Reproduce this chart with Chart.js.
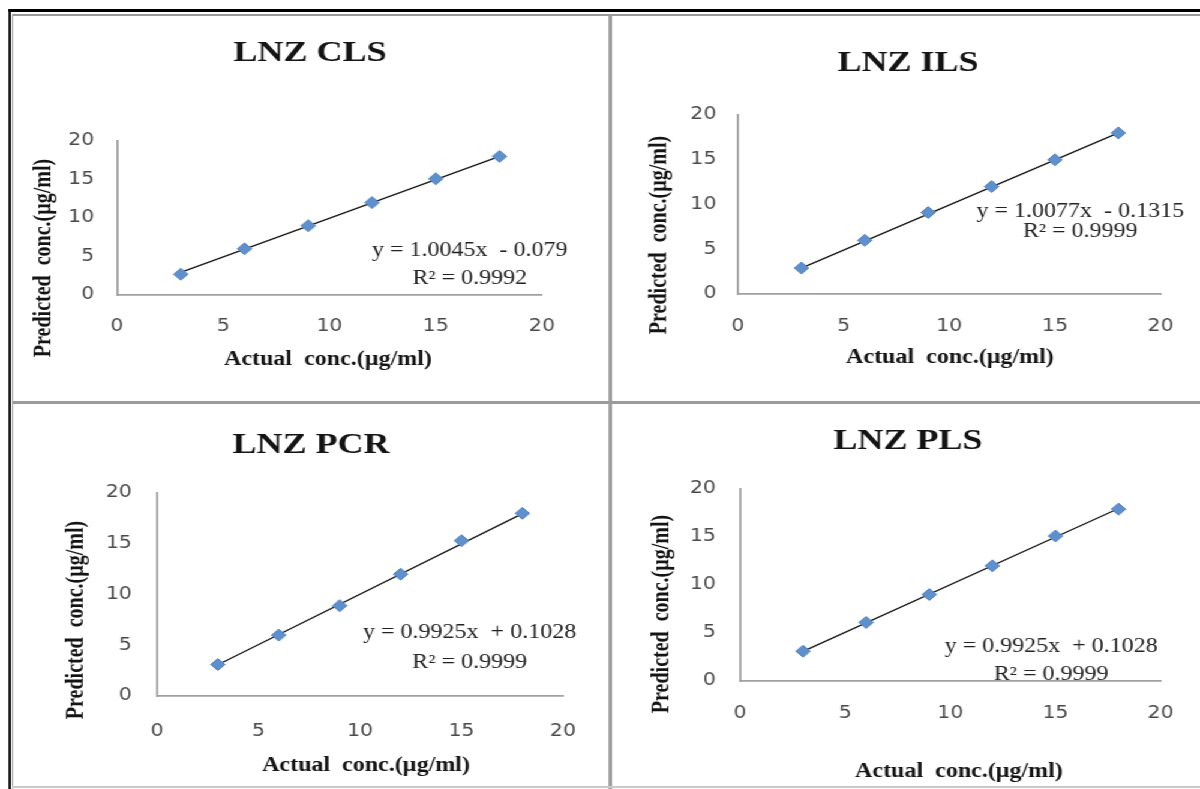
<!DOCTYPE html>
<html lang="en">
<head>
  <meta charset="UTF-8">
  <meta name="viewport" content="width=device-width, initial-scale=1.0">
  <title>LNZ - predicted vs actual concentration</title>
  <style>
    html, body { margin: 0; padding: 0; background: #fff; overflow: hidden; }
    /* the whole figure is a bit stretched sideways, so draw at 1000px and widen */
    #stage { position: absolute; left: 0; top: 0; width: 1000px; height: 789px; transform: scaleX(1.2); transform-origin: 0 0; }
    .rule { position: absolute; }
    .panel { position: absolute; }
  </style>
</head>
<body>

  <div id="stage"></div>

  <script src="https://cdn.jsdelivr.net/npm/chart.js"></script>

  <script>
    // data
    const actualConc = [3, 6, 9, 12, 15, 18];
    const clsPredicted = [2.7, 6.0, 9.0, 12.0, 15.1, 18.0];
    const ilsPredicted = [2.9, 6.0, 9.1, 12.0, 15.0, 18.0];
    const pcrPredicted = [3.1, 6.0, 8.9, 12.0, 15.3, 18.0];
    const plsPredicted = [3.1, 6.1, 9.0, 12.0, 15.1, 17.9];
    const axisTicks = [0, 5, 10, 15, 20];
    const modelNames = ['LNZ CLS', 'LNZ ILS', 'LNZ PCR', 'LNZ PLS'];
    const slopes = [1.0045, 1.0077, 0.9925, 0.9925];
    const intercepts = [-0.079, -0.1315, 0.1028, 0.1028];
    const rSquared = [0.9992, 0.9999, 0.9999, 0.9999];
    const predictedSets = [clsPredicted, ilsPredicted, pcrPredicted, plsPredicted];

    const SX = 1.2;
    const stage = document.querySelector('#stage');

    // layout in figure pixels: panel box, plot area, text anchors
    const panels = [
      { box: [14, 16, 606, 400], area: [117, 141, 542, 295], titleAt: [310, 53], xTitleAt: [328, 360], yTitleAt: [44, 258], eqAt: [16.6, 5.7, 2.1], yPad: 19, xPad: 21 },
      { box: [614, 16, 1200, 400], area: [738, 115, 1165, 294], titleAt: [908, 63], xTitleAt: [950, 358], yTitleAt: [660, 235], eqAt: [16.2, 9.2, 6.9], yPad: 18, xPad: 22 },
      { box: [14, 406, 606, 786], area: [157, 493, 583, 696], titleAt: [311, 445], xTitleAt: [366, 766], yTitleAt: [76, 620], eqAt: [15.4, 6.2, 3.25], yPad: 21, xPad: 25 },
      { box: [614, 406, 1200, 786], area: [740, 489, 1163, 681], titleAt: [908, 441], xTitleAt: [959, 772], yTitleAt: [662, 614], eqAt: [14.8, 3.55, 0.62], yPad: 20, xPad: 22 }
    ];

    // table rules round the four panels
    const rules = [
      [8, 9, 1200, 3, '#000'], [8, 9, 3, 780, '#000'],
      [12, 14, 1188, 1.5, '#9a9a9a'], [12, 14, 1.5, 775, '#9a9a9a'],
      [608, 14, 4, 775, '#9a9a9a'], [12, 401, 1188, 3, '#9a9a9a'],
      [12, 786, 1188, 2, '#c8c8c8']
    ];
    rules.forEach(r => {
      const d = document.createElement('div');
      d.className = 'rule';
      d.style.left = (r[0] / SX) + 'px';
      d.style.top = r[1] + 'px';
      d.style.width = (r[2] / SX) + 'px';
      d.style.height = r[3] + 'px';
      d.style.background = r[4];
      stage.appendChild(d);
    });

    const panelText = {
      id: 'panelText',
      afterDraw(chart, args, opts) {
        const ctx = chart.ctx;
        const sx = chart.scales.x, sy = chart.scales.y;
        ctx.save();
        ctx.fillStyle = '#141414';
        ctx.textAlign = 'center';
        ctx.textBaseline = 'middle';

        ctx.font = 'bold 30px "Liberation Serif"';
        ctx.fillText(opts.title, opts.title_x, opts.title_y);

        ctx.font = 'bold 20px "Liberation Serif"';
        ctx.fillText('Actual  conc.(µg/ml)', opts.xt_x, opts.xt_y);
        ctx.save();
        ctx.translate(opts.yt_x, opts.yt_y);
        ctx.rotate(-Math.PI / 2);
        ctx.fillText('Predicted  conc.(µg/ml)', 0, 0);
        ctx.restore();

        ctx.font = '20px "Liberation Serif"';
        ctx.fillStyle = '#222';
        const ex = sx.getPixelForValue(opts.eq[0]);
        ctx.fillText(opts.line1, ex, sy.getPixelForValue(opts.eq[1]));
        ctx.fillText(opts.line2, ex, sy.getPixelForValue(opts.eq[2]));
        ctx.restore();
      }
    };

    panels.forEach((p, i) => {
      const left = Math.round(p.box[0] / SX);
      const width = Math.round((p.box[2] - p.box[0]) / SX);
      const top = p.box[1];
      const height = p.box[3] - p.box[1];

      const wrap = document.createElement('div');
      wrap.className = 'panel';
      wrap.style.left = left + 'px';
      wrap.style.top = top + 'px';
      wrap.style.width = width + 'px';
      wrap.style.height = height + 'px';
      const lienzo = document.createElement('canvas');
      wrap.appendChild(lienzo);
      stage.appendChild(wrap);

      const aL = p.area[0] / SX - left;
      const aR = p.area[2] / SX - left;
      const aT = p.area[1] - top;
      const aB = p.area[3] - top;
      const lx = v => v / SX - left;
      const ly = v => v - top;

      const b = intercepts[i];
      const line1 = 'y = ' + slopes[i].toFixed(4) + 'x  ' + (b < 0 ? '- ' : '+ ') + Math.abs(b);
      const line2 = 'R² = ' + rSquared[i].toFixed(4);

      const first = actualConc[0], last = actualConc[actualConc.length - 1];
      const trend = [
        { x: first, y: slopes[i] * first + b },
        { x: last, y: slopes[i] * last + b }
      ];

      const axisCommon = {
        type: 'linear',
        min: axisTicks[0],
        max: axisTicks[axisTicks.length - 1],
        afterBuildTicks: s => { s.ticks = axisTicks.map(v => ({ value: v })); },
        grid: { display: false, drawTicks: false },
        border: { display: true, color: '#a0a0a0', width: 1.8 }
      };
      const tickFont = { family: 'DejaVu Sans', size: 17 };

      new Chart(lienzo, {
        type: 'scatter',
        data: {
          datasets: [
            {
              label: modelNames[i],
              data: actualConc.map((x, k) => ({ x: x, y: predictedSets[i][k] })),
              pointStyle: 'rectRot',
              pointRadius: 6,
              backgroundColor: '#5f90cc',
              borderColor: '#5283c0',
              borderWidth: 1
            },
            {
              label: 'trend',
              data: trend,
              showLine: true,
              pointRadius: 0,
              borderColor: '#161616',
              borderWidth: 1.3
            }
          ]
        },
        options: {
          responsive: true,
          maintainAspectRatio: false,
          animation: false,
          layout: { padding: { left: 0, top: aT, right: width - aR, bottom: 0 } },
          plugins: {
            legend: { display: false },
            tooltip: { enabled: false },
            panelText: {
              title: modelNames[i],
              title_x: lx(p.titleAt[0]), title_y: ly(p.titleAt[1]),
              xt_x: lx(p.xTitleAt[0]), xt_y: ly(p.xTitleAt[1]),
              yt_x: lx(p.yTitleAt[0]), yt_y: ly(p.yTitleAt[1]),
              eq: p.eqAt, line1: line1, line2: line2
            }
          },
          scales: {
            x: Object.assign({}, axisCommon, {
              position: 'bottom',
              ticks: { padding: p.xPad, maxRotation: 0, autoSkip: false, color: '#4a4a4a', font: tickFont },
              afterFit: s => { s.height = height - aB; }
            }),
            y: Object.assign({}, axisCommon, {
              position: 'left',
              ticks: { padding: p.yPad, autoSkip: false, color: '#4a4a4a', font: tickFont },
              afterFit: s => { s.width = aL; }
            })
          }
        },
        plugins: [panelText]
      });
    });
  </script>

</body>
</html>
